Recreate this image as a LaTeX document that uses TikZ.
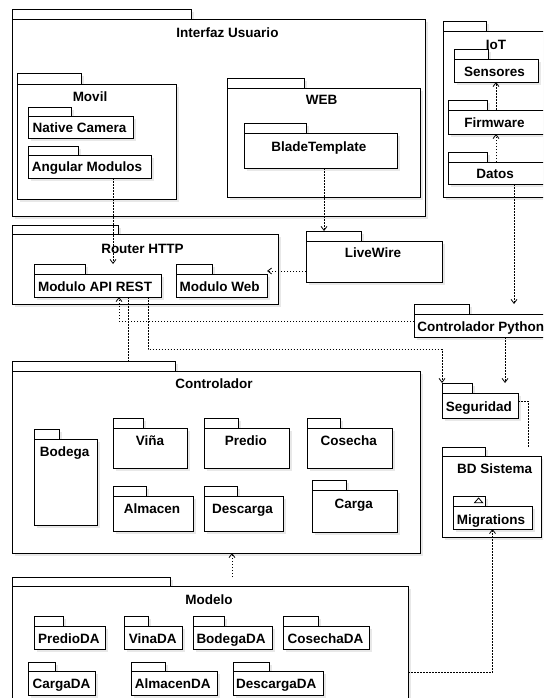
\documentclass[tikz,border=0pt]{standalone}
\usepackage{fontspec}
\setmainfont{Liberation Sans}
\usetikzlibrary{arrows.meta}

% package shape: name, left, tab top, tab right, body top, right, bottom
\newcommand\pkg[7]{%
  \pgfmathsetmacro\pkgBW{#6-#2}\pgfmathsetmacro\pkgBH{#7-#5}%
  \pgfmathsetmacro\pkgBX{(#2+#6)/2}\pgfmathsetmacro\pkgBY{(#5+#7)/2}%
  \pgfmathsetmacro\pkgTW{#4-#2}\pgfmathsetmacro\pkgTH{#5-#3}%
  \pgfmathsetmacro\pkgTX{(#2+#4)/2}\pgfmathsetmacro\pkgTY{(#3+#5)/2}%
  \fill[pkgshadow] (#2+3,#3+3) rectangle (#4+3,#5+3);
  \fill[pkgshadow] (#2+3,#5+3) rectangle (#6+3,#7+3);
  \node[pkgbox, minimum width=\pkgTW pt, minimum height=\pkgTH pt] (#1-tab) at (\pkgTX,\pkgTY) {};
  \node[pkgbox, minimum width=\pkgBW pt, minimum height=\pkgBH pt] (#1) at (\pkgBX,\pkgBY) {};
}
% label: name, x centre, y centre, text
\newcommand\lab[4]{\node[lbl] (#1) at (#2,#3+4.8) {#4};}

\begin{document}
\begin{tikzpicture}[x=1pt,y=-1pt,
  pkgbox/.style={draw=black, fill=white, line width=0.9pt, inner sep=0pt, outer sep=0pt, rectangle},
  pkgshadow/.style={fill=black!9},
  lbl/.style={font=\bfseries\fontsize{13.5}{16}\selectfont, inner sep=0pt, anchor=base},
  dep/.style={draw=black, line width=0.8pt, dash pattern=on 1.5pt off 1.5pt},
  deparrow/.style={dep, -{Straight Barb[length=4pt,width=6pt]}}]
\useasboundingbox (0,0) rectangle (543,698);
\fill[white] (0,0) rectangle (543,698);
\clip (0,0) rectangle (543,698);

% user interface
\pkg{interfaz}{12}{9.5}{191}{19.5}{425}{216}
\lab{interfaz-l}{227.5}{33}{Interfaz Usuario}
\pkg{movil}{17}{73}{81}{84}{176}{199}
\lab{movil-l}{90}{97}{Movil}
\pkg{natcam}{28}{107}{71}{116}{133}{138}
\lab{natcam-l}{79.5}{128}{Native Camera}
\pkg{angular}{28}{146}{78}{155}{151}{178}
\lab{angular-l}{87}{167}{Angular Modulos}
\pkg{web}{227}{78}{304}{88}{420}{197}
\lab{web-l}{321.7}{100}{WEB}
\pkg{blade}{244}{123}{306}{133}{397}{168}
\lab{blade-l}{318.8}{147}{BladeTemplate}

% IoT
\pkg{iot}{443}{21}{486}{31}{570}{197}
\lab{iot-l}{496}{45}{IoT}
\pkg{sensores}{454}{49}{488}{59}{538}{82}
\lab{sensores-l}{494.5}{72}{Sensores}
\pkg{firmware}{448}{100}{487}{110}{570}{134}
\lab{firmware-l}{494.5}{123}{Firmware}
\pkg{datos}{448}{152}{487}{162}{570}{184}
\lab{datos-l}{495}{174}{Datos}

% routing
\pkg{router}{12}{225}{118}{234}{278}{304}
\lab{router-l}{142.5}{249}{Router HTTP}
\pkg{apirest}{34}{264}{85}{274}{161}{297}
\lab{apirest-l}{95}{287}{Modulo API REST}
\pkg{modweb}{176}{264}{212}{274}{267}{297}
\lab{modweb-l}{219.7}{287}{Modulo Web}
\pkg{livewire}{306}{231}{361}{241}{442}{282}
\lab{livewire-l}{373}{253}{LiveWire}
\pkg{ctrlpy}{414}{304}{469}{314}{570}{337}
\lab{ctrlpy-l}{480.7}{326.5}{Controlador Python}

% controllers
\pkg{ctrl}{12}{361}{175}{371}{420}{553}
\lab{ctrl-l}{214}{384}{Controlador}
\pkg{bodega}{34}{429}{59}{439}{97}{525}
\lab{bodega-l}{64.7}{452}{Bodega}
\pkg{vina}{113}{418}{143}{428}{187}{468}
\lab{vina-l}{150}{441}{Viña}
\pkg{predio}{204}{418}{238}{428}{289}{468}
\lab{predio-l}{245.8}{441}{Predio}
\pkg{cosecha}{307}{418}{340}{428}{392}{468}
\lab{cosecha-l}{348.7}{441}{Cosecha}
\pkg{almacen}{113}{486}{146}{496}{193}{531}
\lab{almacen-l}{152}{509}{Almacen}
\pkg{descarga}{204}{486}{237}{496}{283}{531}
\lab{descarga-l}{242.5}{509}{Descarga}
\pkg{carga}{312}{480}{346}{490}{397}{532}
\lab{carga-l}{353.8}{503.5}{Carga}

% security and database
\pkg{seguridad}{442}{383}{472}{393}{518}{418}
\lab{seguridad-l}{478.8}{406.5}{Seguridad}
\pkg{bd}{442}{447}{485}{456}{541}{537}
\lab{bd-l}{494.7}{469}{BD Sistema}
\pkg{migr}{453}{496}{485}{506}{532}{529}
\lab{migr-l}{491}{519.5}{Migrations}
\draw[line width=0.8pt] (474.5,502.8) -- (478.6,498) -- (482.7,502.8) -- cycle;

% model
\pkg{modelo}{12}{577}{170}{586}{408}{720}
\lab{modelo-l}{209}{600}{Modelo}
\pkg{predioda}{34}{616}{63}{626}{105}{649}
\lab{predioda-l}{68.8}{639}{PredioDA}
\pkg{vinada}{124}{616}{148}{626}{182}{649}
\lab{vinada-l}{152.8}{639}{VinaDA}
\pkg{bodegada}{193}{616}{224}{626}{272}{649}
\lab{bodegada-l}{231}{639}{BodegaDA}
\pkg{cosechada}{283}{616}{318}{626}{369}{649}
\lab{cosechada-l}{325.5}{639}{CosechaDA}
\pkg{cargada}{28}{662}{55}{671}{95}{695}
\lab{cargada-l}{61.5}{684}{CargaDA}
\pkg{almacenda}{131}{662}{165}{671}{217}{695}
\lab{almacenda-l}{172.8}{684}{AlmacenDA}
\pkg{descargada}{233}{662}{269}{671}{323}{695}
\lab{descargada-l}{276.3}{684}{DescargaDA}

% routing points of the dependencies
\coordinate (k1) at (113,0);
\coordinate (k2) at (324,0);
\coordinate (k3) at (0,271);
\coordinate (k4) at (496,0);
\coordinate (k6) at (514,0);
\coordinate (k7) at (119,321);
\coordinate (k8a) at (148,349.5);
\coordinate (k8b) at (442,349.5);
\coordinate (k9) at (128.3,0);
\coordinate (k10) at (505,0);
\coordinate (k11) at (528,401);
\coordinate (k12) at (492.5,672.3);
\coordinate (k13) at (232,0);

% dependencies
\draw[deparrow] (angular.south -| k1) -- (apirest-tab.north -| k1);
\draw[deparrow] (blade.south -| k2) -- (livewire-tab.north -| k2);
\draw[deparrow] (livewire.west |- k3) -- (modweb.east |- k3);
\draw[deparrow] (firmware.north -| k4) -- (sensores.south -| k4);
\draw[deparrow] (datos.north -| k4) -- (firmware.south -| k4);
\draw[deparrow] (datos.south -| k6) -- (ctrlpy-tab.north -| k6);
\draw[deparrow] (ctrlpy.west |- k7) -- (k7) -- (apirest.south -| k7);
\draw[deparrow] (apirest.south -| k8a) -- (k8a) -- (k8b) -- (seguridad-tab.north -| k8b);
\draw[dep] (apirest.south -| k9) -- (ctrl-tab.north -| k9);
\draw[deparrow] (ctrlpy.south -| k10) -- (seguridad-tab.north -| k10);
\draw[dep] (seguridad.east |- k11) -- (k11) -- (bd-tab.north -| k11);
\draw[deparrow] (modelo.east |- k12) -- (k12) -- (migr.south -| k12);
\draw[deparrow] (modelo-tab.north -| k13) -- (ctrl.south -| k13);
\end{tikzpicture}
\end{document}
